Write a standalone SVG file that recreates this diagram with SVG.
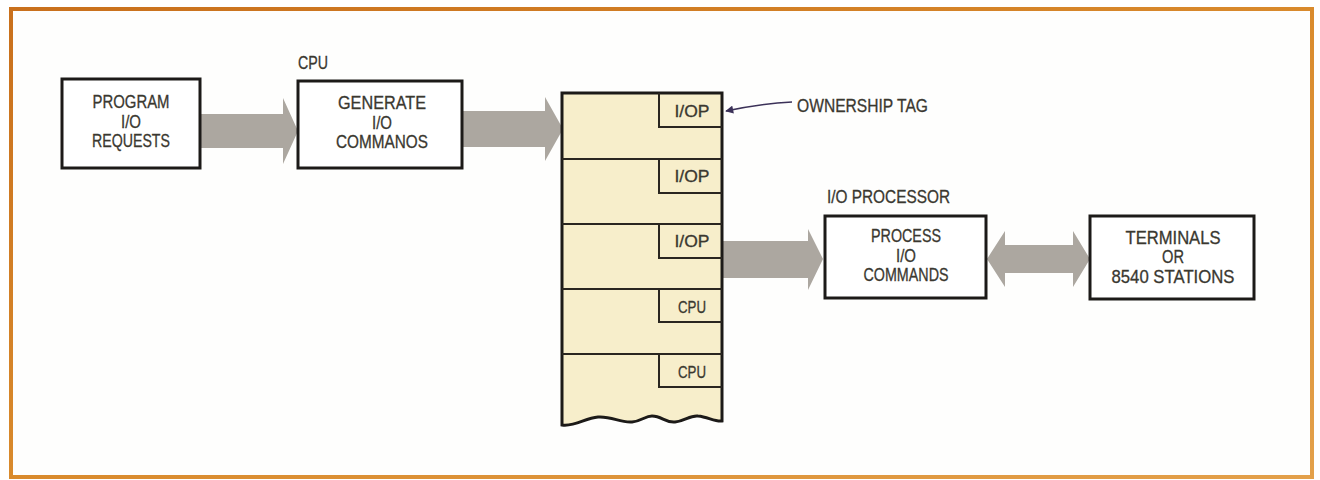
<svg xmlns="http://www.w3.org/2000/svg" width="1320" height="480" viewBox="0 0 1320 480">
<defs>
<linearGradient id="frameGrad" x1="0" y1="0" x2="1" y2="1">
<stop offset="0" stop-color="#c9701c"/>
<stop offset="0.5" stop-color="#d98a2c"/>
<stop offset="1" stop-color="#e3a04a"/>
</linearGradient>
<marker id="tagHead" viewBox="0 0 10 10" refX="9" refY="5" markerWidth="10" markerHeight="8" markerUnits="userSpaceOnUse" orient="auto">
<path d="M0,0 L10,5 L0,10 z" fill="#3b3158"/>
</marker>
<style>
.box{fill:#ffffff;stroke:#1c1a18;stroke-width:3}
.lbl{font-family:"Liberation Sans",Arial,sans-serif;font-size:18px;fill:#3a3830;stroke:#3a3830;stroke-width:0.3;text-anchor:middle}
.cap{font-family:"Liberation Sans",Arial,sans-serif;font-size:18px;fill:#3a3830;stroke:#3a3830;stroke-width:0.3}
.tag{font-family:"Liberation Sans",Arial,sans-serif;font-size:16px;fill:#3a3830;stroke:#3a3830;stroke-width:0.3;text-anchor:middle}
.arrow{fill:#aca7a0}
.row{fill:none;stroke:#2a2620;stroke-width:2}
</style>
</defs>
<rect x="0" y="0" width="1320" height="480" fill="#ffffff"/>
<rect x="11" y="9" width="1301" height="468" fill="#fefefd" stroke="url(#frameGrad)" stroke-width="4"/>

<g id="connectors">
<polygon class="arrow" points="200,114 283,114 283,98 298,131 283,164 283,148 200,148"/>
<polygon class="arrow" points="462,111 545,111 545,97 563,129 545,161 545,147 462,147"/>
<polygon class="arrow" points="722,241 808,241 808,229 823,259 808,290 808,278 722,278"/>
<polygon class="arrow" points="987,259 1005,231 1005,245 1073,245 1073,231 1090,259 1073,287 1073,273 1005,273 1005,287"/>
<path d="M792,102 C770,103 745,107 726,111" fill="none" stroke="#3b3158" stroke-width="1.5" marker-end="url(#tagHead)"/>
</g>

<g id="program-requests">
<rect class="box" x="62" y="79" width="138" height="89"/>
<text class="lbl" x="131" y="108" textLength="77" lengthAdjust="spacingAndGlyphs">PROGRAM</text>
<text class="lbl" x="131" y="128" textLength="20" lengthAdjust="spacingAndGlyphs">I/O</text>
<text class="lbl" x="131" y="147" textLength="78" lengthAdjust="spacingAndGlyphs">REQUESTS</text>
</g>

<g id="cpu-generate">
<text class="cap" x="298" y="69" textLength="30" lengthAdjust="spacingAndGlyphs">CPU</text>
<rect class="box" x="298" y="81" width="164" height="87"/>
<text class="lbl" x="382" y="109" textLength="88" lengthAdjust="spacingAndGlyphs">GENERATE</text>
<text class="lbl" x="382" y="129" textLength="20" lengthAdjust="spacingAndGlyphs">I/O</text>
<text class="lbl" x="382" y="148" textLength="92" lengthAdjust="spacingAndGlyphs">COMMANOS</text>
</g>

<g id="memory">
<path d="M562,93 L722,93 L722,421 C715,422 708,417 698,416 C690,415 685,421 675,422 C665,423 662,416 652,416 C645,416 642,421 632,422 C620,423 612,416 598,417 C585,418 575,427 562,425 Z" fill="#f7eecb" stroke="#1c1a18" stroke-width="3"/>
<line class="row" x1="562" y1="159" x2="722" y2="159"/>
<line class="row" x1="562" y1="224" x2="722" y2="224"/>
<line class="row" x1="562" y1="289" x2="722" y2="289"/>
<line class="row" x1="562" y1="354" x2="722" y2="354"/>
<path class="row" d="M659,93 L659,127 L722,127"/>
<path class="row" d="M659,159 L659,193 L722,193"/>
<path class="row" d="M659,224 L659,258 L722,258"/>
<path class="row" d="M659,289 L659,322 L722,322"/>
<path class="row" d="M659,354 L659,387 L722,387"/>
<text class="tag" x="692" y="117" textLength="35" lengthAdjust="spacingAndGlyphs">I/OP</text>
<text class="tag" x="692" y="182" textLength="35" lengthAdjust="spacingAndGlyphs">I/OP</text>
<text class="tag" x="692" y="247" textLength="35" lengthAdjust="spacingAndGlyphs">I/OP</text>
<text class="tag" x="692" y="313" textLength="28" lengthAdjust="spacingAndGlyphs">CPU</text>
<text class="tag" x="692" y="378" textLength="28" lengthAdjust="spacingAndGlyphs">CPU</text>
</g>

<g id="ownership-tag">
<text class="cap" x="797" y="112" textLength="131" lengthAdjust="spacingAndGlyphs">OWNERSHIP TAG</text>
</g>

<g id="io-processor">
<text class="cap" x="827" y="203" textLength="123" lengthAdjust="spacingAndGlyphs">I/O PROCESSOR</text>
<rect class="box" x="825" y="216" width="161" height="82"/>
<text class="lbl" x="906" y="242" textLength="70" lengthAdjust="spacingAndGlyphs">PROCESS</text>
<text class="lbl" x="906" y="262" textLength="20" lengthAdjust="spacingAndGlyphs">I/O</text>
<text class="lbl" x="906" y="281" textLength="85" lengthAdjust="spacingAndGlyphs">COMMANDS</text>
</g>

<g id="terminals">
<rect class="box" x="1090" y="216" width="164" height="83"/>
<text class="lbl" x="1173" y="244" textLength="95" lengthAdjust="spacingAndGlyphs">TERMINALS</text>
<text class="lbl" x="1173" y="263" textLength="22" lengthAdjust="spacingAndGlyphs">OR</text>
<text class="lbl" x="1173" y="283" textLength="123" lengthAdjust="spacingAndGlyphs">8540 STATIONS</text>
</g>
</svg>
